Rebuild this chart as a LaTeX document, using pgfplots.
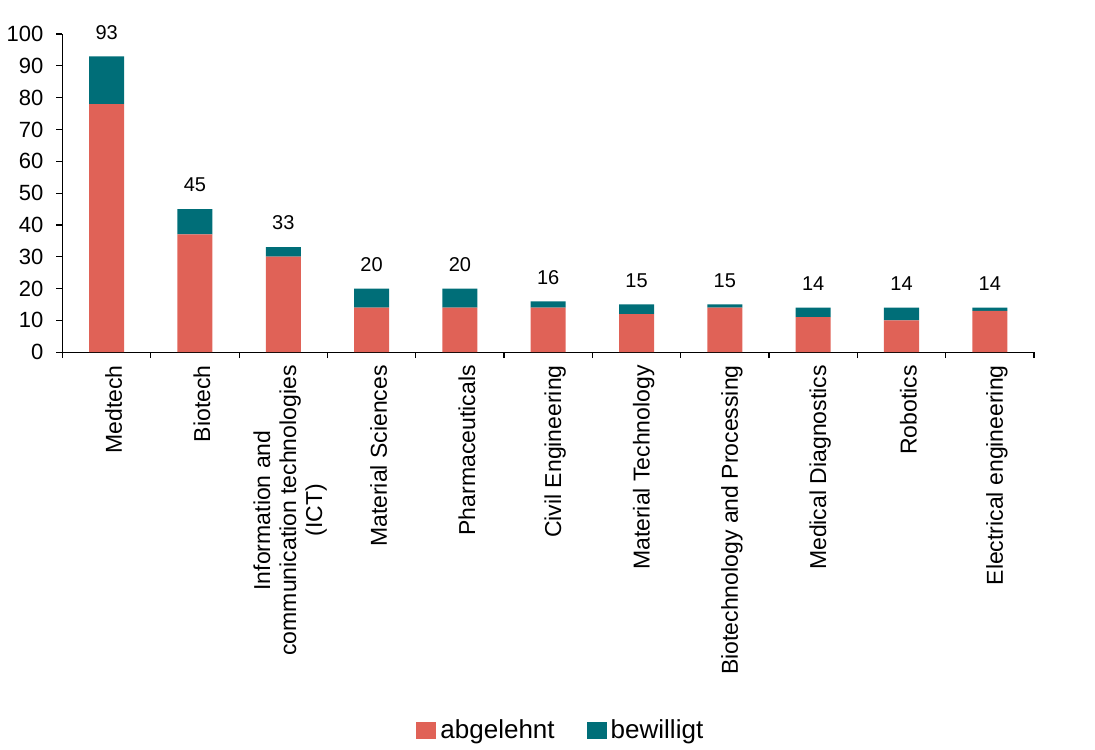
\documentclass[border=0pt]{standalone}
\usepackage{pgfplots}
\pgfplotsset{compat=1.18}
\usepackage{fontspec}
\setmainfont{Liberation Sans}
\definecolor{redbar}{HTML}{E06257}
\definecolor{tealbar}{HTML}{006E78}
\begin{document}
\begin{tikzpicture}
\begin{axis}[
  scale only axis,
  width=485.5pt, height=159pt,
  ybar stacked,
  bar width=17.5pt,
  xmin=-0.5, xmax=10.5,
  ymin=0, ymax=100,
  axis x line*=bottom,
  axis y line*=left,
  axis line style={black, line width=0.6pt},
  tick align=outside,
  major tick length=3pt,
  minor tick length=3pt,
  ytick={0,10,...,100},
  xtick={0,...,10},
  minor xtick={-0.5,0.5,...,10.5},
  major x tick style={draw=none},
  minor x tick style={draw=black, line width=0.6pt},
  y tick style={draw=black, line width=0.6pt},
  xticklabels={Medtech, Biotech, {Information and\\communication technologies\\(ICT)}, Material Sciences, Pharmaceuticals, Civil Engineering, Material Technology, Biotechnology and Processing, Medical Diagnostics, Robotics, Electrical engineering},
  xticklabel style={xshift=3.5pt, rotate=90, anchor=east, align=center, font=\fontsize{11.5}{13}\selectfont},
  yticklabel style={xshift=-3pt, font=\fontsize{11}{13}\selectfont},
  /pgf/number format/assume math mode=true,
  legend style={at={(0.514,-1.19)}, anchor=center, draw=none, legend columns=2,
    font=\fontsize{13}{15}\selectfont,
    /tikz/every even column/.append style={column sep=14pt}},
  legend image code/.code={\fill[#1] (0pt,-4.25pt) rectangle (10pt,4.25pt);},
  clip=false,
]
\addplot[fill=redbar, draw=none] coordinates {(0,78) (1,37) (2,30) (3,14) (4,14) (5,14) (6,12) (7,14) (8,11) (9,10) (10,13)};
\addlegendentry{abgelehnt}
\addplot[fill=tealbar, draw=none] coordinates {(0,15) (1,8) (2,3) (3,6) (4,6) (5,2) (6,3) (7,1) (8,3) (9,4) (10,1)};
\addlegendentry{bewilligt}
\path (rel axis cs:1,1) ++(30.5pt,17pt);
\end{axis}
\begin{axis}[
  scale only axis,
  width=485.5pt, height=159pt,
  xmin=-0.5, xmax=10.5,
  ymin=0, ymax=100,
  hide axis, clip=false,
  /pgf/number format/assume math mode=true,
]
\addplot[draw=none, mark=none,
  nodes near coords, point meta=y,
  every node near coord/.append style={font=\fontsize{10}{12}\selectfont, anchor=south, yshift=5pt, text=black}]
  coordinates {(0,93) (1,45) (2,33) (3,20) (4,20) (5,16) (6,15) (7,15) (8,14) (9,14) (10,14)};
\end{axis}
\end{tikzpicture}
\end{document}
